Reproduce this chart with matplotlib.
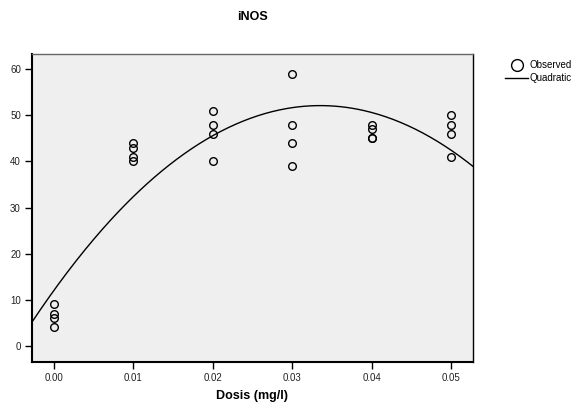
import matplotlib
matplotlib.use('Agg')
import matplotlib.pyplot as plt
import numpy as np
from matplotlib.lines import Line2D

plt.rcParams['font.family'] = ['Liberation Sans', 'DejaVu Sans']

# observed values per dose
dose = [0.00]*4 + [0.01]*4 + [0.02]*4 + [0.03]*4 + [0.04]*4 + [0.05]*4
inos = [9, 7, 6, 4,
        44, 43, 41, 40,
        51, 48, 46, 40,
        59, 48, 44, 39,
        48, 47, 45, 45,
        50, 48, 46, 41]
xticks = [0.00, 0.01, 0.02, 0.03, 0.04, 0.05]
yticks = [0, 10, 20, 30, 40, 50, 60]

fig = plt.figure(figsize=(5.84, 4.04), dpi=100)
ax = fig.add_axes([32/584, 1-362/404, (473-32)/584, (362-54)/404])
ax.set_facecolor('#efefef')

xlim = (-0.00277, 0.05277)
ylim = (-3.5, 63.3)

# quadratic fit like SPSS curve estimation
coef = np.polyfit(dose, inos, 2)
xs = np.linspace(xlim[0], xlim[1], 300)
ax.plot(xs, np.polyval(coef, xs), '-', color='k', linewidth=1.0)

ax.plot(dose, inos, 'o', mfc='none', mec='k', ms=5.5, mew=1.0)

ax.set_xlim(xlim)
ax.set_ylim(ylim)
ax.set_xticks(xticks)
ax.set_xticklabels(['%.2f' % v for v in xticks])
ax.set_yticks(yticks)
ax.tick_params(direction='out', length=5, width=1, labelsize=7, labelcolor='#222222', pad=3)

for s in ['left', 'bottom']:
    ax.spines[s].set_linewidth(1.5)
ax.spines['top'].set_linewidth(1.0)
ax.spines['top'].set_color('#666666')
ax.spines['right'].set_linewidth(1.0)

ax.set_xlabel('Dosis (mg/l)', fontsize=9, fontweight='bold', labelpad=5)
fig.text(252/584, 1-17/404, 'iNOS', ha='center', va='center', fontsize=9, fontweight='bold')

handles = [Line2D([], [], marker='o', ls='none', mfc='none', mec='k', ms=8.5, mew=1.0),
           Line2D([], [], color='k', lw=1.0)]
fig.legend(handles, ['Observed', 'Quadratic'], loc='upper left',
           bbox_to_anchor=(505/584, 1-60/404), frameon=False, fontsize=7,
           handlelength=2.4, handletextpad=0.1, labelspacing=0.35,
           borderaxespad=0, borderpad=0)

plt.savefig('out.png', dpi=100)
